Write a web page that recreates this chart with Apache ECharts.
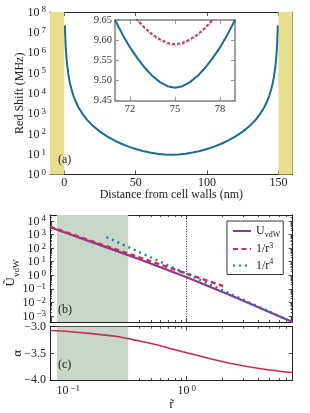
<!DOCTYPE html>
<html><head><meta charset="utf-8">
<script src="https://cdn.jsdelivr.net/npm/echarts@6/dist/echarts.min.js"></script>
<style>html,body{margin:0;padding:0;background:#fff}#c{width:310px;height:413px}</style>
</head><body><div id="c"></div>
<script>
// ---------- data ----------
const distNm = [0.45,0.6,0.8,1,1.3,1.7,2.2,3,4,5,6.5,8,10,13,16,20,25,30,35,40,45,50,55,60,65,70,75,80,85,90,95,100,105,110,115,120,125,130,134,137,140,142,143.5,145,146,147,147.8,148.3,148.7,149,149.2,149.4,149.55];
const redShiftMHz = [2.2e7,9.26e6,3.91e6,2.0e6,9.1e5,4.07e5,1.88e5,7.4e4,3.13e4,1.6e4,7280,3906,2001,911,489,251,129,75.2,47.96,32.75,23.68,18.0,14.35,12.0,10.54,9.74,9.48,9.74,10.54,12.0,14.35,18.0,23.68,32.75,47.96,75.2,129,251,489,911,2001,3906,7280,1.6e4,3.13e4,7.4e4,1.88e5,4.07e5,9.1e5,2.0e6,3.91e6,9.26e6,2.2e7];

const insetZ = [71,71.5,72,72.5,73,73.5,74,74.5,75,75.5,76,76.5,77,77.5,78,78.5,79];
const insetBlue = [9.65,9.614,9.582,9.555,9.531,9.511,9.496,9.486,9.482,9.486,9.496,9.511,9.531,9.555,9.582,9.614,9.65];
const insetZ2 = [72.4,73,73.5,74,74.5,75,75.5,76,76.5,77,77.6];
const insetRed = [9.654,9.630,9.614,9.602,9.593,9.590,9.593,9.602,9.614,9.630,9.654];
const insetGreen = [9.653,9.629,9.613,9.601,9.592,9.589,9.592,9.601,9.613,9.629,9.653];
const insetPurple = [9.652,9.627,9.610,9.598,9.589,9.586,9.589,9.598,9.610,9.627,9.652];

const rGrid = [0.07,0.1,0.158,0.251,0.398,0.631,1,1.585,2.512,3.981,6.31,7.86];
const uVdw = [3548,1175,281.8,66.07,15.14,3.311,0.7079,0.138,0.0257,0.00457,7.94e-4,3.47e-4];
const rInv3 = [0.07,0.2,0.5,1,2.03];
const uInv3 = [3846,165,10.5,1.32,0.158];
const rInv4 = [0.21,0.5,1,2,4,7.86];
const uInv4 = [662,20.6,1.29,0.0805,0.00504,3.39e-4];
const alphaVals = [-3.07,-3.09,-3.13,-3.18,-3.27,-3.37,-3.49,-3.60,-3.70,-3.78,-3.84,-3.86];

const wallBands = [[-10,0],[150,160]];
const shortRange = [0.08,0.32];

// ---------- ticks ----------
const distTicks = [0,50,100,150];
const shiftDecades = [1,10,100,1e3,1e4,1e5,1e6,1e7,1e8];
const uDecades = [1e-3,1e-2,1e-1,1,10,100,1e3,1e4];
const rMajor = [0.1,1];
const rMinor = [0.08,0.09,0.2,0.3,0.4,0.5,0.6,0.7,0.8,0.9,2,3,4,5,6,7];
const alphaTicks = [-4,-3.5,-3];
const insetXTicks = [72,75,78];
const insetYTicks = [9.45,9.5,9.55,9.6,9.65];

function minorLog(lo, hi) {
  const out = [];
  for (let k = -5; k <= 9; k++) for (let m = 2; m <= 9; m++) {
    const v = m * Math.pow(10, k);
    if (v > lo && v < hi) out.push(+v.toPrecision(3));
  }
  return out;
}

// ---------- styling ----------
const FONT = '"Liberation Serif","DejaVu Serif",serif';
const INK = '#222';
const richSup = {
  b: {fontFamily: FONT, fontSize: 12, color: INK, verticalAlign: 'bottom', lineHeight: 13},
  s: {fontFamily: FONT, fontSize: 9, color: INK, verticalAlign: 'top', lineHeight: 7, padding: [0,0,0,2]}
};
function pow10Label(v) {
  const e = Math.round(Math.log10(v));
  return '{b|10}{s|' + (e < 0 ? '\u2212' + (-e) : e) + '}';
}

const xAxes = [], yAxes = [];
function addAxes(list, o) {
  const main = list.length;
  const col = o.color || INK, lw = o.lw || 1;
  const mk = (pos, ticks, len, showLine, label) => ({
    gridIndex: o.grid, type: o.type, min: o.min, max: o.max, position: pos, silent: true,
    splitLine: {show: false},
    axisLine: {show: showLine, onZero: false, lineStyle: {color: col, width: lw}},
    axisTick: ticks ? {show: true, inside: true, length: len, customValues: ticks, lineStyle: {color: col, width: 0.8}} : {show: false},
    axisLabel: label || {show: false}
  });
  list.push(mk(o.posA, o.majors, 4, true, o.label));
  if (o.name) Object.assign(list[main], {name: o.name, nameLocation: 'middle', nameGap: o.nameGap, nameMoveOverlap: false,
    nameTextStyle: Object.assign({fontFamily: FONT, fontSize: 12, color: INK}, o.nameStyle || {})});
  list.push(mk(o.posB, o.majors, 4, true, null));
  if (o.minors) {
    list.push(mk(o.posA, o.minors, 2, false, null));
    list.push(mk(o.posB, o.minors, 2, false, null));
  }
  return main;
}
const lbl = (values, fmt, extra) => Object.assign({show: true, customValues: values, formatter: fmt, margin: 4,
  showMinLabel: true, showMaxLabel: true, hideOverlap: false,
  fontFamily: FONT, fontSize: 12, color: INK, rich: richSup}, extra || {});

// grids: 0 = (a), 1 = inset, 2 = (b), 3 = (c)
const grids = [
  {left: 50, top: 12, width: 242.7, height: 162.5},
  {left: 115, top: 20, width: 120, height: 80.7, show: true, backgroundColor: '#fff', borderWidth: 0},
  {left: 50, top: 215, width: 242.7, height: 107},
  {left: 50, top: 326.7, width: 242.7, height: 53.3}
];

const xa = addAxes(xAxes, {grid: 0, type: 'value', min: -10, max: 160, posA: 'bottom', posB: 'top', majors: distTicks,
  label: lbl(distTicks, v => String(v), {margin: 2}), name: 'Distance from cell walls (nm)', nameGap: 14});
const ya = addAxes(yAxes, {grid: 0, type: 'log', min: 1, max: 1e8, posA: 'left', posB: 'right', majors: shiftDecades,
  minors: minorLog(1, 1e8), label: lbl(shiftDecades, pow10Label), name: 'Red Shift (MHz)', nameGap: 24});
const xi = addAxes(xAxes, {grid: 1, type: 'value', min: 71, max: 79, posA: 'bottom', posB: 'top', majors: insetXTicks,
  color: '#808080', lw: 1.5, label: lbl(insetXTicks, v => String(v), {fontSize: 10.5, color: '#333', margin: 3})});
const yi = addAxes(yAxes, {grid: 1, type: 'value', min: 9.45, max: 9.65, posA: 'left', posB: 'right', majors: insetYTicks,
  color: '#808080', lw: 1.5, label: lbl(insetYTicks, v => v.toFixed(2), {fontSize: 10.5, color: '#333', margin: 3})});
const xb = addAxes(xAxes, {grid: 2, type: 'log', min: 0.07, max: 7.86, posA: 'bottom', posB: 'top', majors: rMajor, minors: rMinor});
const yb = addAxes(yAxes, {grid: 2, type: 'log', min: 3.55e-4, max: 2.82e4, posA: 'left', posB: 'right', majors: uDecades,
  minors: minorLog(3.55e-4, 2.82e4), label: lbl(uDecades, pow10Label)});
const xc = addAxes(xAxes, {grid: 3, type: 'log', min: 0.07, max: 7.86, posA: 'bottom', posB: 'top', majors: rMajor, minors: rMinor,
  label: lbl(rMajor, pow10Label), name: 'r\u0303', nameGap: 18, nameStyle: {fontSize: 13}});
const yc = addAxes(yAxes, {grid: 3, type: 'value', min: -4, max: -3, posA: 'left', posB: 'right', majors: alphaTicks,
  label: lbl(alphaTicks, v => '\u2212' + Math.abs(v).toFixed(1)), name: '\u03b1', nameGap: 26, nameStyle: {fontSize: 13}});

const zip = (a, b) => a.map((v, i) => [v, b[i]]);
const lineBase = {type: 'line', showSymbol: false, symbol: 'none', silent: true, animation: false, clip: true};

const series = [
  Object.assign({}, lineBase, {name: 'shift', xAxisIndex: xa, yAxisIndex: ya, data: zip(distNm, redShiftMHz),
    lineStyle: {color: '#1b6d94', width: 2}, z: 3,
    markArea: {silent: true, itemStyle: {color: '#e6df8d'},
      data: wallBands.map(b => [{xAxis: b[0]}, {xAxis: b[1]}])}}),
  Object.assign({}, lineBase, {name: 'iBlue', xAxisIndex: xi, yAxisIndex: yi, data: zip(insetZ, insetBlue),
    lineStyle: {color: '#1b6d94', width: 2}}),
  Object.assign({}, lineBase, {name: 'iPurple', xAxisIndex: xi, yAxisIndex: yi, data: zip(insetZ2, insetPurple),
    lineStyle: {color: '#c98ee0', width: 1.6, type: [1, 2]}}),
  Object.assign({}, lineBase, {name: 'iRed', xAxisIndex: xi, yAxisIndex: yi, data: zip(insetZ2, insetRed),
    lineStyle: {color: '#c8304f', width: 2, type: [3, 2]}}),
  Object.assign({}, lineBase, {name: 'iGreen', xAxisIndex: xi, yAxisIndex: yi, data: zip(insetZ2, insetGreen),
    lineStyle: {color: '#5f9f5f', width: 1.4, type: [1, 4]}}),
  Object.assign({}, lineBase, {name: 'U_vdW', xAxisIndex: xb, yAxisIndex: yb, data: zip(rGrid, uVdw),
    lineStyle: {color: '#8b3a90', width: 2.2}, z: 2,
    markArea: {silent: true, itemStyle: {color: '#c8d7ca'}, data: [[{xAxis: shortRange[0]}, {xAxis: shortRange[1]}]]},
    markLine: {silent: true, symbol: 'none', label: {show: false}, lineStyle: {color: '#333', width: 1, type: [1, 1.5]},
      data: [{xAxis: 1}]}}),
  Object.assign({}, lineBase, {name: '1/r3', xAxisIndex: xb, yAxisIndex: yb, data: zip(rInv3, uInv3),
    lineStyle: {color: '#c8304f', width: 2.4, type: [5, 3.5]}, z: 3}),
  Object.assign({}, lineBase, {name: '1/r4', xAxisIndex: xb, yAxisIndex: yb, data: zip(rInv4, uInv4),
    lineStyle: {color: '#1f7ea5', width: 2.4, type: [2, 4]}, z: 4}),
  Object.assign({}, lineBase, {name: 'alpha', xAxisIndex: xc, yAxisIndex: yc, data: zip(rGrid, alphaVals),
    smooth: 0.3, lineStyle: {color: '#c0304f', width: 1.6},
    markArea: {silent: true, itemStyle: {color: '#c8d7ca'}, data: [[{xAxis: shortRange[0]}, {xAxis: shortRange[1]}]]}})
];

const legendNames = {'U_vdW': '{b|U}{sub|vdW}', '1/r3': '{b|1/r}{sup|3}', '1/r4': '{b|1/r}{sup|4}'};

const option = {
  animation: false,
  backgroundColor: '#fff',
  grid: grids,
  xAxis: xAxes,
  yAxis: yAxes,
  series: series,
  legend: {
    data: ['U_vdW', '1/r3', '1/r4'], orient: 'vertical', left: 227, top: 221,
    itemWidth: 18, itemHeight: 12, itemGap: 3, padding: [4, 3, 3, 5],
    borderColor: '#333', borderWidth: 1, borderRadius: 0, backgroundColor: '#fff',
    itemStyle: {opacity: 0},
    selectedMode: false,
    formatter: n => legendNames[n],
    textStyle: {fontFamily: FONT, fontSize: 12, color: INK, rich: {
      b: {fontFamily: FONT, fontSize: 12, color: INK, lineHeight: 15},
      sup: {fontFamily: FONT, fontSize: 8, color: INK, verticalAlign: 'top', lineHeight: 8},
      sub: {fontFamily: FONT, fontSize: 8, color: INK, verticalAlign: 'bottom', lineHeight: 8}
    }}
  },
  graphic: [
    {type: 'text', z: 100, left: 58, top: 154, style: {text: '(a)', font: '12px ' + FONT, fill: INK}},
    {type: 'text', z: 100, left: 58, top: 304, style: {text: '(b)', font: '12px ' + FONT, fill: INK}},
    {type: 'text', z: 100, left: 58, top: 359, style: {text: '(c)', font: '12px ' + FONT, fill: INK}},
    {type: 'text', z: 100, x: 13, y: 273, rotation: Math.PI / 2,
     style: {text: '{b|\u0168}{sub|vdW}', align: 'center', verticalAlign: 'middle', rich: {
       b: {fontFamily: FONT, fontSize: 13, fill: INK, verticalAlign: 'top', lineHeight: 17},
       sub: {fontFamily: FONT, fontSize: 9, fill: INK, verticalAlign: 'bottom', lineHeight: 9}}}}
  ]
};
const chart = echarts.init(document.getElementById('c'), null, {renderer: 'canvas'});
chart.setOption(option);
</script></body></html>
